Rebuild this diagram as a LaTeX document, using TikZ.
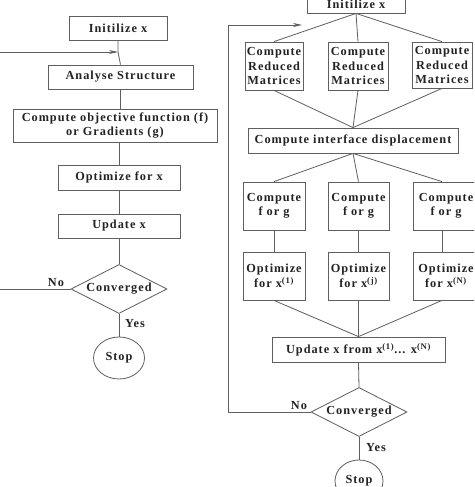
\documentclass[tikz,border=0pt]{standalone}
\usepackage{fontspec}
\setmainfont{Liberation Serif}[LetterSpace=8]
\usetikzlibrary{shapes.geometric,arrows.meta}
\definecolor{gc}{RGB}{95,95,95}
\definecolor{tc}{RGB}{35,35,35}
\begin{document}
\begin{tikzpicture}[x=1pt,y=-1pt,
  every node/.style={text=tc,font=\fontsize{12.3}{14.5}\selectfont\bfseries},
  bx/.style={draw=gc,line width=0.8pt,inner sep=0pt,align=center,rectangle},
  dm/.style={draw=gc,line width=0.8pt,diamond,inner sep=0pt,shape aspect=1.96,minimum width=96pt,minimum height=49pt},
  el/.style={draw=gc,line width=0.8pt,ellipse,inner sep=0pt},
  ln/.style={draw=gc,line width=0.8pt},
  lab/.style={inner sep=0pt}]
\clip (0,0) rectangle (474,487);
\fill[white] (0,0) rectangle (474,487);
% ---------- left flowchart ----------
\node[bx,minimum width=98pt,minimum height=24pt] (i1) at (118,28.5) {Initilize x};
\node[bx,minimum width=145pt,minimum height=24pt] (a1) at (120.5,77) {Analyse Structure};
\node[bx,minimum width=204pt,minimum height=33pt] (c1) at (115,125.5) {Compute objective function (f)\\or Gradients (g)};
\node[bx,minimum width=122pt,minimum height=25pt] (o1) at (119,177.5) {Optimize for x};
\node[bx,minimum width=122pt,minimum height=24pt] (u1) at (119,226) {Update x};
\node[dm] (d1) at (119,289) {Converged};
\node[el,minimum width=51pt,minimum height=42pt] (s1) at (119,358) {Stop};
\node[lab] (no1) at (56,283) {No};
\node[lab] (yes1) at (135,324) {Yes};
\coordinate (m1) at (118,52);
\coordinate (l1a) at (-5,289);
\coordinate (l1b) at (-5,52);
\draw[ln] (i1.south) -- (m1) -- (a1.north);
\draw[ln] (a1.south) -- (a1.south |- c1.north);
\draw[ln] (c1.south -| o1.north) -- (o1.north);
\draw[ln] (o1.south) -- (u1.north);
\draw[ln] (u1.south) -- (d1.north);
\draw[ln] (d1.south) -- (s1.north);
\draw[ln] (d1.west) -- (l1a);
\draw[ln,-{Stealth[length=9pt,width=4pt]}] (l1b) -- (m1);
% ---------- right flowchart ----------
\node[bx,minimum width=98pt,minimum height=22pt,text height=16pt,text depth=2pt] (i2) at (356,2) {Initilize x};
\node[bx,minimum width=58pt,minimum height=48pt] (r1) at (274,66) {Compute\\Reduced\\Matrices};
\node[bx,minimum width=60pt,minimum height=48pt] (r2) at (358,66) {Compute\\Reduced\\Matrices};
\node[bx,minimum width=60pt,minimum height=46pt] (r3) at (442,65) {Compute\\Reduced\\Matrices};
\node[bx,minimum width=210pt,minimum height=25pt] (f) at (353,140.5) {Compute interface displacement};
\node[bx,minimum width=62pt,minimum height=48pt] (g1) at (274,206) {Compute\\f or g};
\node[bx,minimum width=61pt,minimum height=48pt] (g2) at (358.5,206) {Compute\\f or g};
\node[bx,minimum width=66pt,minimum height=48pt] (g3) at (446,206) {Compute\\f or g};
\node[bx,minimum width=62pt,minimum height=48pt] (p1) at (274,276) {Optimize\\for x\textsuperscript{(1)}};
\node[bx,minimum width=61pt,minimum height=48pt] (p2) at (358.5,276) {Optimize\\for x\textsuperscript{(j)}};
\node[bx,minimum width=66pt,minimum height=48pt] (p3) at (446,276) {Optimize\\for x\textsuperscript{(N)}};
\node[bx,minimum width=173pt,minimum height=25pt] (up) at (358.5,349.5) {Update x from x\textsuperscript{(1)}... x\textsuperscript{(N)}};
\node[dm] (d2) at (359,412) {Converged};
\node[el,minimum width=48pt,minimum height=42pt] (s2) at (359,481) {Stop};
\node[lab] (no2) at (299,406) {No};
\node[lab] (yes2) at (376,448) {Yes};
\coordinate (l2a) at (228,412);
\coordinate (l2b) at (228,25);
\coordinate (l2c) at (302,25);
\foreach \b in {r1,r2,r3} {\draw[ln] (i2.south) -- (\b.north); \draw[ln] (\b.south) -- (f.north);}
\foreach \b in {g1,g2} {\draw[ln] (f.south) -- (\b.north);}
\draw[ln] (f.south) -- (g3.north -| 442,0);
\draw[ln] (g1.south) -- (p1.north);
\draw[ln] (g2.south) -- (p2.north);
\draw[ln] (g3.south -| 442,0) -- (p3.north -| 442,0);
\draw[ln] (p1.south) -- (up.north);
\draw[ln] (p2.south) -- (up.north);
\draw[ln] (p3.south -| 442,0) -- (up.north);
\draw[ln] (up.south) -- (d2.north);
\draw[ln] (d2.south) -- (s2.north);
\draw[ln,-{Stealth[length=9pt,width=4pt]}] (d2.west) -- (l2a) -- (l2b) -- (l2c);
\end{tikzpicture}
\end{document}
